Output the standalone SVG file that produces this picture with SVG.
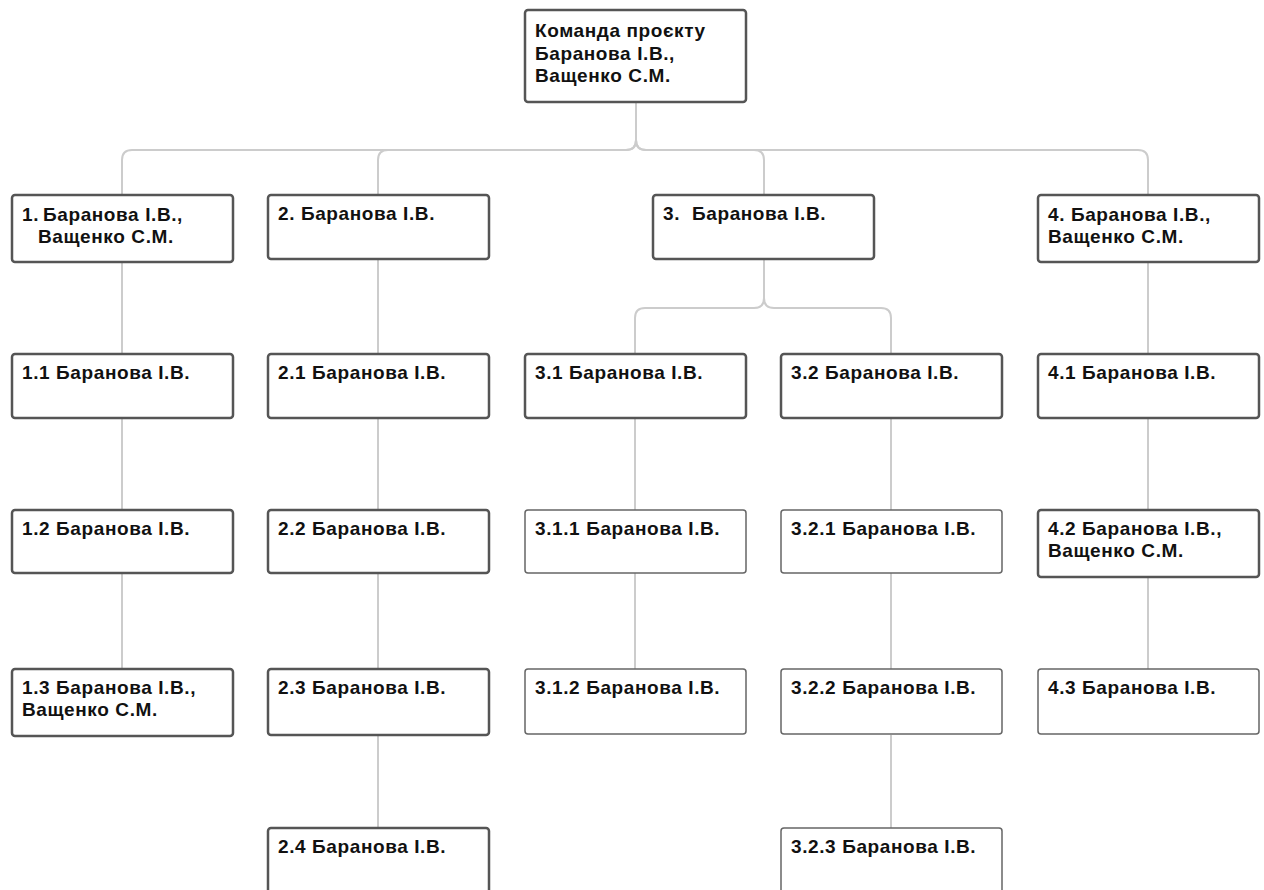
<svg xmlns="http://www.w3.org/2000/svg" width="1264" height="890" viewBox="0 0 1264 890">
<style>
.n{fill:#fff;stroke:#555;stroke-width:2.5}
.t{fill:#fff;stroke:#666;stroke-width:1.5}
.c{fill:none;stroke:#cccccc;stroke-width:2}
text{font-family:"Liberation Sans",Arial,sans-serif;font-weight:bold;font-size:19px;letter-spacing:0.6px;fill:#111}
</style>
<rect width="1264" height="890" fill="#fff"/>
<g id="connectors">
<path class="c" d="M636,103 V140 Q636,150 626,150 H132 Q122,150 122,160 V195"/>
<path class="c" d="M636,103 V140 Q636,150 626,150 H388 Q378,150 378,160 V195"/>
<path class="c" d="M636,103 V140 Q636,150 646,150 H754 Q764,150 764,160 V195"/>
<path class="c" d="M636,103 V140 Q636,150 646,150 H1138 Q1148,150 1148,160 V195"/>
<path class="c" d="M764,259 V298 Q764,308 754,308 H645 Q635,308 635,318 V354"/>
<path class="c" d="M764,259 V298 Q764,308 774,308 H881 Q891,308 891,318 V354"/>
<path class="c" d="M122,262 V354 M122,418 V510 M122,573 V669"/>
<path class="c" d="M378,259 V354 M378,418 V510 M378,573 V669 M378,735 V828"/>
<path class="c" d="M635,418 V510 M635,573 V669"/>
<path class="c" d="M891,418 V510 M891,573 V669 M891,735 V828"/>
<path class="c" d="M1148,262 V354 M1148,418 V510 M1148,577 V669"/>
</g>
<g id="root"><rect class="n" x="525" y="10" width="221" height="92" rx="3"/><text x="535" y="37">Команда проєкту</text><text x="535" y="60">Баранова І.В.,</text><text x="535" y="82">Ващенко С.М.</text></g>
<g id="n1"><rect class="n" x="12" y="195" width="221" height="67" rx="3"/><text x="22" y="221">1.</text><text x="43" y="221">Баранова І.В.,</text><text x="38" y="243">Ващенко С.М.</text></g>
<g id="n2"><rect class="n" x="268" y="195" width="221" height="64" rx="3"/><text x="278" y="220">2. Баранова І.В.</text></g>
<g id="n3"><rect class="n" x="653" y="195" width="221" height="64" rx="3"/><text x="663" y="220">3.</text><text x="692" y="220">Баранова І.В.</text></g>
<g id="n4"><rect class="n" x="1038" y="195" width="221" height="67" rx="3"/><text x="1048" y="221">4. Баранова І.В.,</text><text x="1048" y="243">Ващенко С.М.</text></g>
<g id="n1_1"><rect class="n" x="12" y="354" width="221" height="64" rx="3"/><text x="22" y="379">1.1 Баранова І.В.</text></g>
<g id="n2_1"><rect class="n" x="268" y="354" width="221" height="64" rx="3"/><text x="278" y="379">2.1 Баранова І.В.</text></g>
<g id="n3_1"><rect class="n" x="525" y="354" width="221" height="64" rx="3"/><text x="535" y="379">3.1 Баранова І.В.</text></g>
<g id="n3_2"><rect class="n" x="781" y="354" width="221" height="64" rx="3"/><text x="791" y="379">3.2 Баранова І.В.</text></g>
<g id="n4_1"><rect class="n" x="1038" y="354" width="221" height="64" rx="3"/><text x="1048" y="379">4.1 Баранова І.В.</text></g>
<g id="n1_2"><rect class="n" x="12" y="510" width="221" height="63" rx="3"/><text x="22" y="535">1.2 Баранова І.В.</text></g>
<g id="n2_2"><rect class="n" x="268" y="510" width="221" height="63" rx="3"/><text x="278" y="535">2.2 Баранова І.В.</text></g>
<g id="n3_1_1"><rect class="t" x="525" y="510" width="221" height="63" rx="3"/><text x="535" y="535">3.1.1 Баранова І.В.</text></g>
<g id="n3_2_1"><rect class="t" x="781" y="510" width="221" height="63" rx="3"/><text x="791" y="535">3.2.1 Баранова І.В.</text></g>
<g id="n4_2"><rect class="n" x="1038" y="510" width="221" height="67" rx="3"/><text x="1048" y="535">4.2 Баранова І.В.,</text><text x="1048" y="557">Ващенко С.М.</text></g>
<g id="n1_3"><rect class="n" x="12" y="669" width="221" height="67" rx="3"/><text x="22" y="694">1.3 Баранова І.В.,</text><text x="22" y="716">Ващенко С.М.</text></g>
<g id="n2_3"><rect class="n" x="268" y="669" width="221" height="66" rx="3"/><text x="278" y="694">2.3 Баранова І.В.</text></g>
<g id="n3_1_2"><rect class="t" x="525" y="669" width="221" height="65" rx="3"/><text x="535" y="694">3.1.2 Баранова І.В.</text></g>
<g id="n3_2_2"><rect class="t" x="781" y="669" width="221" height="65" rx="3"/><text x="791" y="694">3.2.2 Баранова І.В.</text></g>
<g id="n4_3"><rect class="t" x="1038" y="669" width="221" height="65" rx="3"/><text x="1048" y="694">4.3 Баранова І.В.</text></g>
<g id="n2_4"><rect class="n" x="268" y="828" width="221" height="80" rx="3"/><text x="278" y="853">2.4 Баранова І.В.</text></g>
<g id="n3_2_3"><rect class="t" x="781" y="828" width="221" height="80" rx="3"/><text x="791" y="853">3.2.3 Баранова І.В.</text></g>
</svg>
